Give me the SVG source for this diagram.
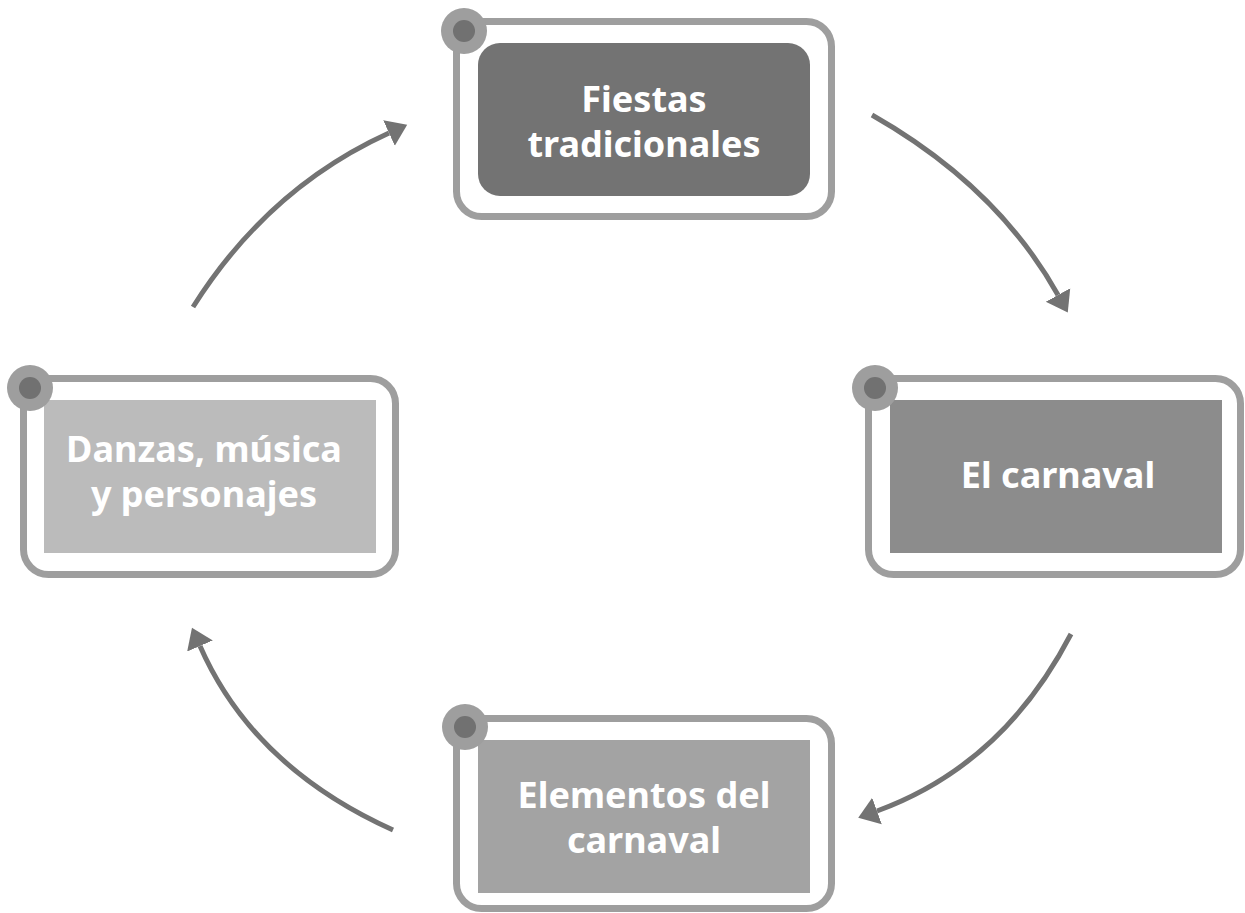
<svg xmlns="http://www.w3.org/2000/svg" width="1245" height="913" viewBox="0 0 1245 913">
  <style>
    .frame { fill: #ffffff; stroke: #9e9e9e; stroke-width: 7; }
    .dot-outer { fill: #9e9e9e; }
    .dot-inner { fill: #717171; }
    .label { font-family: "Noto Sans", "Liberation Sans", sans-serif; font-weight: 700; font-size: 36px; fill: #ffffff; text-anchor: middle; }
    .conn { fill: none; stroke: #737373; stroke-width: 5; }
  </style>
  <defs>
    <marker id="arrow" markerUnits="userSpaceOnUse" viewBox="0 -15 22 30" refX="0" refY="0" markerWidth="22" markerHeight="30" orient="auto">
      <path d="M0,-14 L20,0 L0,14 z" fill="#737373"/>
    </marker>
  </defs>

  <g id="connectors">
    <path class="conn" d="M872,115 Q997,186 1058,295" marker-end="url(#arrow)"/>
    <path class="conn" d="M1071,634 Q1003,765 877,811" marker-end="url(#arrow)"/>
    <path class="conn" d="M393,830 Q253,767 200,646" marker-end="url(#arrow)"/>
    <path class="conn" d="M193,307 Q268,188 389,133" marker-end="url(#arrow)"/>
  </g>

  <g id="node-fiestas">
    <rect class="frame" x="456.5" y="21.5" width="375" height="195" rx="25"/>
    <rect x="478" y="43" width="332" height="153" rx="22" fill="#737373"/>
    <circle class="dot-outer" cx="464" cy="31" r="23"/>
    <circle class="dot-inner" cx="464" cy="31" r="11"/>
    <text class="label" x="644" y="112">Fiestas</text>
    <text class="label" x="644" y="157">tradicionales</text>
  </g>

  <g id="node-carnaval">
    <rect class="frame" x="868.5" y="378.5" width="372" height="196" rx="25"/>
    <rect x="890" y="400" width="332" height="153" fill="#8c8c8c"/>
    <circle class="dot-outer" cx="875" cy="388" r="23"/>
    <circle class="dot-inner" cx="875" cy="388" r="11"/>
    <text class="label" x="1058" y="488">El carnaval</text>
  </g>

  <g id="node-elementos">
    <rect class="frame" x="456.5" y="718.5" width="375" height="190" rx="25"/>
    <rect x="478" y="740" width="332" height="153" fill="#a3a3a3"/>
    <circle class="dot-outer" cx="465" cy="727" r="23"/>
    <circle class="dot-inner" cx="465" cy="727" r="11"/>
    <text class="label" x="644" y="808">Elementos del</text>
    <text class="label" x="644" y="853">carnaval</text>
  </g>

  <g id="node-danzas">
    <rect class="frame" x="23.5" y="378.5" width="372" height="196" rx="25"/>
    <rect x="44" y="400" width="332" height="153" fill="#bbbbbb"/>
    <circle class="dot-outer" cx="30" cy="388" r="23"/>
    <circle class="dot-inner" cx="30" cy="388" r="11"/>
    <text class="label" x="204" y="462">Danzas, música</text>
    <text class="label" x="204" y="507">y personajes</text>
  </g>
</svg>
